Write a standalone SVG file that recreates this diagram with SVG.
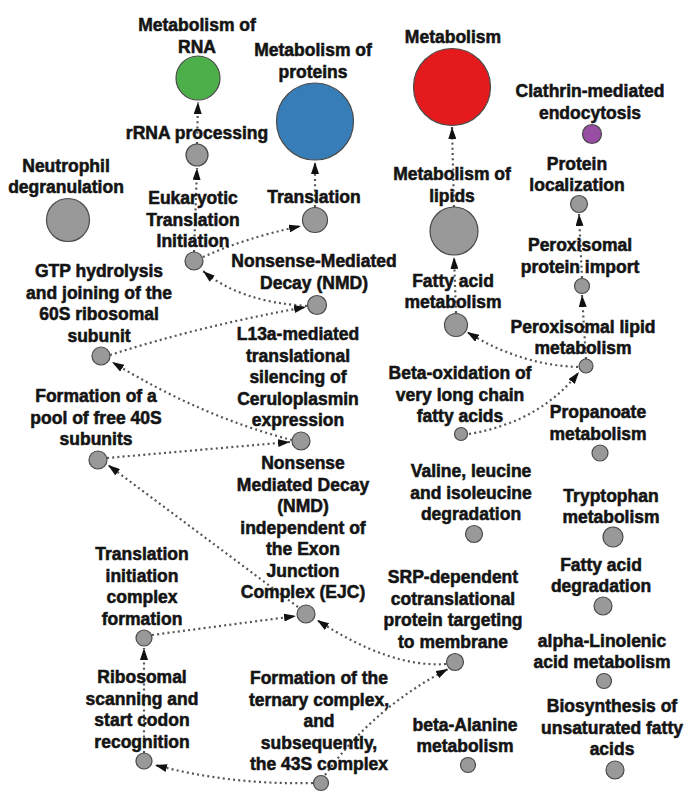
<svg xmlns="http://www.w3.org/2000/svg" width="692" height="800" viewBox="0 0 692 800">
<defs>
<style>
.n{stroke:#4a4a4a;stroke-width:1.2}
.g{fill:#999999}
.t{font-family:"Liberation Sans",Arial,sans-serif;font-weight:bold;font-size:17.5px;fill:#141414;stroke:#141414;stroke-width:0.55;text-anchor:middle}
.e{fill:none;stroke:#555555;stroke-width:2.2;stroke-dasharray:2 3.2;marker-end:url(#arr)}
</style>
<marker id="arr" viewBox="0 0 12 8" refX="12" refY="4" markerWidth="12" markerHeight="8" markerUnits="userSpaceOnUse" orient="auto" preserveAspectRatio="none">
<path d="M0,0 L12,4 L0,8 z" fill="#111111"/>
</marker>
</defs>
<rect width="692" height="800" fill="#ffffff"/>

<g id="connectors">
<path class="e" d="M197,144 L198,102"/>
<path class="e" d="M194,252 L197,168"/>
<path class="e" d="M315,207 L315,162"/>
<path class="e" d="M203,257 Q245,238 301,226"/>
<path class="e" d="M307,306 Q240,302 203,271"/>
<path class="e" d="M110,355 Q200,326 306,307"/>
<path class="e" d="M292,440 Q202,417 112,362"/>
<path class="e" d="M107,458 L290,442"/>
<path class="e" d="M298,607 L108,465"/>
<path class="e" d="M152,635 L296,616"/>
<path class="e" d="M446,664 Q390,668 317,620"/>
<path class="e" d="M144,753 L144,648"/>
<path class="e" d="M313,783 Q230,785 155,765"/>
<path class="e" d="M325,775 Q373,708 448,669"/>
<path class="e" d="M454,207 L452,127"/>
<path class="e" d="M456,313 L454,257"/>
<path class="e" d="M582,278 L579,214"/>
<path class="e" d="M586,359 L582,295"/>
<path class="e" d="M578,367 Q520,365 467,332"/>
<path class="e" d="M469,434 Q540,422 579,372"/>
</g>

<g id="metabolism-of-rna"><circle class="n" cx="198" cy="78" r="22" fill="#4daf4a"/><text class="t"><tspan x="197" y="31">Metabolism of</tspan><tspan x="197" y="53">RNA</tspan></text></g>
<g id="metabolism-of-proteins"><circle class="n" cx="315" cy="121.5" r="38.5" fill="#377eb8"/><text class="t"><tspan x="313" y="56">Metabolism of</tspan><tspan x="313" y="78">proteins</tspan></text></g>
<g id="rrna-processing"><circle class="n g" cx="197" cy="155" r="11"/><text class="t" x="197" y="139">rRNA processing</text></g>
<g id="neutrophil-degranulation"><circle class="n g" cx="68" cy="220" r="21.5"/><text class="t"><tspan x="66" y="172">Neutrophil</tspan><tspan x="66" y="193">degranulation</tspan></text></g>
<g id="eukaryotic-translation-initiation"><circle class="n g" cx="194" cy="261" r="9"/><text class="t"><tspan x="193" y="204">Eukaryotic</tspan><tspan x="193" y="225.5">Translation</tspan><tspan x="193" y="247">Initiation</tspan></text></g>
<g id="translation"><circle class="n g" cx="315" cy="220" r="12.5"/><text class="t" x="314" y="203">Translation</text></g>
<g id="nmd"><circle class="n g" cx="317" cy="305" r="9.5"/><text class="t"><tspan x="314" y="267">Nonsense-Mediated</tspan><tspan x="314" y="289">Decay (NMD)</tspan></text></g>
<g id="gtp-hydrolysis"><circle class="n g" cx="101" cy="356" r="9"/><text class="t"><tspan x="99" y="277">GTP hydrolysis</tspan><tspan x="99" y="298.5">and joining of the</tspan><tspan x="99" y="320">60S ribosomal</tspan><tspan x="99" y="341.5">subunit</tspan></text></g>
<g id="l13a-mediated"><circle class="n g" cx="301" cy="441" r="9"/><text class="t"><tspan x="298" y="340">L13a-mediated</tspan><tspan x="298" y="361.5">translational</tspan><tspan x="298" y="383">silencing of</tspan><tspan x="298" y="404.5">Ceruloplasmin</tspan><tspan x="298" y="426">expression</tspan></text></g>
<g id="pool-40s"><circle class="n g" cx="98" cy="460" r="9"/><text class="t"><tspan x="96" y="402">Formation of a</tspan><tspan x="96" y="423.5">pool of free 40S</tspan><tspan x="96" y="445">subunits</tspan></text></g>
<g id="nmd-independent"><circle class="n g" cx="306" cy="614" r="9"/><text class="t"><tspan x="303" y="469">Nonsense</tspan><tspan x="303" y="490.5">Mediated Decay</tspan><tspan x="303" y="512">(NMD)</tspan><tspan x="303" y="533.5">independent of</tspan><tspan x="303" y="555">the Exon</tspan><tspan x="303" y="576.5">Junction</tspan><tspan x="303" y="598">Complex (EJC)</tspan></text></g>
<g id="translation-initiation-complex"><circle class="n g" cx="144" cy="638" r="8"/><text class="t"><tspan x="142" y="560">Translation</tspan><tspan x="142" y="581.5">initiation</tspan><tspan x="142" y="603">complex</tspan><tspan x="142" y="624.5">formation</tspan></text></g>
<g id="ribosomal-scanning"><circle class="n g" cx="144" cy="761" r="8"/><text class="t"><tspan x="142" y="683">Ribosomal</tspan><tspan x="142" y="704.5">scanning and</tspan><tspan x="142" y="726">start codon</tspan><tspan x="142" y="747.5">recognition</tspan></text></g>
<g id="ternary-complex"><circle class="n g" cx="321" cy="783" r="7.5"/><text class="t"><tspan x="319" y="684">Formation of the</tspan><tspan x="319" y="705.5">ternary complex,</tspan><tspan x="319" y="727">and</tspan><tspan x="319" y="748.5">subsequently,</tspan><tspan x="319" y="770">the 43S complex</tspan></text></g>
<g id="srp-dependent"><circle class="n g" cx="455" cy="662" r="8.5"/><text class="t"><tspan x="453" y="583">SRP-dependent</tspan><tspan x="453" y="604.5">cotranslational</tspan><tspan x="453" y="626">protein targeting</tspan><tspan x="453" y="647.5">to membrane</tspan></text></g>
<g id="beta-alanine"><circle class="n g" cx="468" cy="765" r="7.5"/><text class="t"><tspan x="465" y="731">beta-Alanine</tspan><tspan x="465" y="752">metabolism</tspan></text></g>
<g id="metabolism"><circle class="n" cx="452" cy="87" r="38.5" fill="#e41a1c"/><text class="t" x="453" y="43">Metabolism</text></g>
<g id="clathrin"><circle class="n" cx="592" cy="134" r="9.5" fill="#984ea3"/><text class="t"><tspan x="590" y="97">Clathrin-mediated</tspan><tspan x="590" y="119">endocytosis</tspan></text></g>
<g id="protein-localization"><circle class="n g" cx="579" cy="204" r="8.5"/><text class="t"><tspan x="577" y="170">Protein</tspan><tspan x="577" y="191">localization</tspan></text></g>
<g id="metabolism-of-lipids"><circle class="n g" cx="454" cy="231" r="24"/><text class="t"><tspan x="452" y="180">Metabolism of</tspan><tspan x="452" y="202">lipids</tspan></text></g>
<g id="peroxisomal-protein-import"><circle class="n g" cx="582" cy="286" r="7.5"/><text class="t"><tspan x="580" y="251">Peroxisomal</tspan><tspan x="580" y="273">protein import</tspan></text></g>
<g id="fatty-acid-metabolism"><circle class="n g" cx="456" cy="325" r="11.5"/><text class="t"><tspan x="453" y="287">Fatty acid</tspan><tspan x="453" y="308">metabolism</tspan></text></g>
<g id="peroxisomal-lipid-metabolism"><circle class="n g" cx="586" cy="366" r="7"/><text class="t"><tspan x="583" y="333">Peroxisomal lipid</tspan><tspan x="583" y="354">metabolism</tspan></text></g>
<g id="beta-oxidation"><circle class="n g" cx="461" cy="434" r="6.5"/><text class="t"><tspan x="460" y="379">Beta-oxidation of</tspan><tspan x="460" y="400.5">very long chain</tspan><tspan x="460" y="422">fatty acids</tspan></text></g>
<g id="propanoate"><circle class="n g" cx="600" cy="453" r="8"/><text class="t"><tspan x="598" y="418">Propanoate</tspan><tspan x="598" y="440">metabolism</tspan></text></g>
<g id="valine-leucine"><circle class="n g" cx="474" cy="534" r="8.5"/><text class="t"><tspan x="471" y="477">Valine, leucine</tspan><tspan x="471" y="498.5">and isoleucine</tspan><tspan x="471" y="520">degradation</tspan></text></g>
<g id="tryptophan"><circle class="n g" cx="613" cy="537" r="10"/><text class="t"><tspan x="611" y="502">Tryptophan</tspan><tspan x="611" y="523">metabolism</tspan></text></g>
<g id="fatty-acid-degradation"><circle class="n g" cx="603" cy="606" r="9"/><text class="t"><tspan x="601" y="571">Fatty acid</tspan><tspan x="601" y="592">degradation</tspan></text></g>
<g id="alpha-linolenic"><circle class="n g" cx="604" cy="681" r="7.5"/><text class="t"><tspan x="602" y="647">alpha-Linolenic</tspan><tspan x="602" y="668">acid metabolism</tspan></text></g>
<g id="biosynthesis-unsaturated"><circle class="n g" cx="615" cy="770" r="9"/><text class="t"><tspan x="612" y="712">Biosynthesis of</tspan><tspan x="612" y="733.5">unsaturated fatty</tspan><tspan x="612" y="755">acids</tspan></text></g>
</svg>
